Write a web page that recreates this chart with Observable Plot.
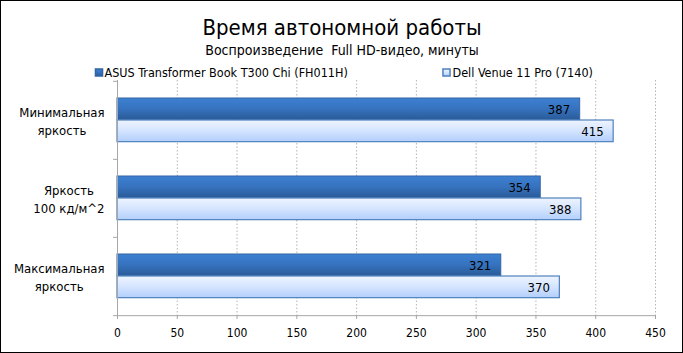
<!DOCTYPE html>
<html><head><meta charset="utf-8">
<script src="https://cdn.jsdelivr.net/npm/d3@7"></script>
<script src="https://cdn.jsdelivr.net/npm/@observablehq/plot@0.6"></script>
<style>
body{margin:0;background:#fff;}
#wrap{position:relative;width:683px;height:353px;overflow:hidden;background:#fff;}
#border{position:absolute;left:0;top:0;width:683px;height:353px;box-sizing:border-box;border:1px solid #000;pointer-events:none;}
#wrap svg{display:block;}
</style></head><body><div id="wrap"><div id="border"></div></div>
<script>
const title = "Время автономной работы";
const subtitle = "Воспроизведение  Full HD-видео, минуты";
const categories = ["Минимальная яркость", "Яркость 100 кд/м^2", "Максимальная яркость"];
const categoryLabels = ["Минимальная\nяркость", "Яркость\n100 кд/м^2", "Максимальная\nяркость"];
const seriesNames = ["ASUS Transformer Book T300 Chi (FH011H)", "Dell Venue 11 Pro (7140)"];
const asusValues = [387, 354, 321];
const dellValues = [415, 388, 370];
const xTicks = [0, 50, 100, 150, 200, 250, 300, 350, 400, 450];

const FONT = "'Liberation Sans Narrow', 'DejaVu Sans Condensed', sans-serif";
const asus = categories.map((c, i) => ({category: c, value: asusValues[i]}));
const dell = categories.map((c, i) => ({category: c, value: dellValues[i]}));

const ctx = document.createElement("canvas").getContext("2d");
ctx.font = `13px ${FONT}`;
const labelMarks = categories.map((c, i) => {
  const w = d3.max(categoryLabels[i].split("\n"), s => ctx.measureText(s).width);
  return Plot.text([c], {y: d => d, text: () => categoryLabels[i], frameAnchor: "left",
    dx: -13 - w / 2, textAnchor: "middle", fontSize: 13, lineHeight: 1.4, fill: "#000"});
});

const bw = 235 / 3;
const centerShift = 341.5 - (117 + 655) / 2;
const chart = Plot.plot({
  width: 683, height: 353,
  marginLeft: 117, marginRight: 28, marginTop: 80, marginBottom: 38,
  style: {fontFamily: FONT, background: "transparent", overflow: "visible"},
  x: {domain: [0, 450], axis: null},
  y: {domain: categories, padding: 0, axis: null},
  marks: [
    Plot.ruleX(xTicks.slice(1), {stroke: "#b4b4b4", strokeDasharray: "1.5,2"}),
    Plot.barX(asus, {x: "value", y: "category", insetTop: 17, insetBottom: bw - 39,
      fill: "url(#gDark)", stroke: "#3465a4", strokeWidth: 1}),
    Plot.barX(dell, {x: "value", y: "category", insetTop: 39, insetBottom: bw - 61,
      fill: "url(#gLight)", stroke: "#4f81bd", strokeWidth: 1.2}),
    Plot.text(asus, {x: "value", y: "category", text: d => String(d.value), dy: -11, dx: -10,
      textAnchor: "end", fontSize: 13, fill: "#000"}),
    Plot.text(dell, {x: "value", y: "category", text: d => String(d.value), dy: 11, dx: -10,
      textAnchor: "end", fontSize: 13, fill: "#000"}),
    Plot.ruleX([0], {stroke: "#a6a6a6", insetBottom: -4}),
    Plot.ruleY(categories.slice(-1), {y: d => d, dy: bw / 2, x1: 0, x2: 450, insetLeft: -4, stroke: "#a6a6a6"}),
    Plot.ruleY(categories, {y: d => d, dy: -bw / 2, x1: 0, x2: 0, insetLeft: -4, stroke: "#a6a6a6"}),
    Plot.axisX(xTicks, {tickSize: 4, tickPadding: 9, stroke: "#a6a6a6", fill: "#000", fontSize: 12, label: null}),
    ...labelMarks,
    Plot.text([title], {frameAnchor: "top", dx: centerShift, dy: -53, fontSize: 22, fill: "#000", lineAnchor: "middle"}),
    Plot.text([subtitle], {frameAnchor: "top", dx: centerShift, dy: -30, fontSize: 14, fill: "#000", lineAnchor: "middle"}),
    Plot.dot([seriesNames[0]], {frameAnchor: "top-left", dx: -18.5, dy: -8, symbol: "square", r: 4,
      fill: "url(#gDark)", stroke: "#3465a4"}),
    Plot.text([seriesNames[0]], {frameAnchor: "top-left", dx: -13, dy: -8, textAnchor: "start", fontSize: 12.5, fill: "#000", lineAnchor: "middle"}),
    Plot.dot([seriesNames[1]], {frameAnchor: "top-left", dx: 329, dy: -8, symbol: "square", r: 4,
      fill: "url(#gLight)", stroke: "#4f81bd"}),
    Plot.text([seriesNames[1]], {frameAnchor: "top-left", dx: 335, dy: -8, textAnchor: "start", fontSize: 12.5, fill: "#000", lineAnchor: "middle"})
  ]
});

const defs = d3.select(chart).insert("defs", ":first-child");
const g1 = defs.append("linearGradient").attr("id", "gDark").attr("x1", 0).attr("y1", 0).attr("x2", 0).attr("y2", 1);
g1.append("stop").attr("offset", "0%").attr("stop-color", "#3d81d2");
g1.append("stop").attr("offset", "50%").attr("stop-color", "#3672be");
g1.append("stop").attr("offset", "100%").attr("stop-color", "#2a5b98");
const g2 = defs.append("linearGradient").attr("id", "gLight").attr("x1", 0).attr("y1", 0).attr("x2", 0).attr("y2", 1);
g2.append("stop").attr("offset", "0%").attr("stop-color", "#eef4ff");
g2.append("stop").attr("offset", "50%").attr("stop-color", "#d4e4ff");
g2.append("stop").attr("offset", "100%").attr("stop-color", "#b2cffc");

document.getElementById("wrap").insertBefore(chart, document.getElementById("border"));
</script></body></html>
